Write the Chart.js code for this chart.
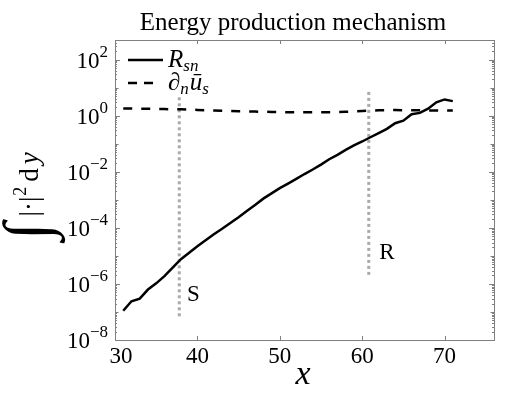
<!DOCTYPE html>
<html>
<head>
<meta charset="utf-8">
<script src="https://cdn.jsdelivr.net/npm/chart.js@4"></script>
<style>
  html, body { margin: 0; padding: 0; background: #fff; }
  #wrap { width: 520px; height: 393px; position: relative; }
</style>
</head>
<body>
<div id="wrap"><canvas id="chart"></canvas></div>
<script>
// Datos
const xPositions = [31, 32, 33, 34, 35, 36, 37, 38, 39, 40, 41, 42, 43, 44, 45, 46, 47, 48, 49, 50,
    51, 52, 53, 54, 55, 56, 57, 58, 59, 60, 61, 62, 63, 64, 65, 66, 67, 68, 69, 70, 71];
const rsnValues = [1.1e-7, 2.4e-7, 3.0e-7, 6.3e-7, 1.05e-6, 1.9e-6, 3.8e-6, 7.6e-6, 1.3e-5, 2.2e-5,
    3.6e-5, 5.9e-5, 9.3e-5, 1.5e-4, 2.4e-4, 4.0e-4, 6.5e-4, 1.1e-3, 1.7e-3, 2.6e-3,
    3.8e-3, 5.6e-3, 8.3e-3, 1.2e-2, 1.8e-2, 2.8e-2, 4.0e-2, 6.0e-2, 8.7e-2, 0.12,
    0.17, 0.24, 0.34, 0.54, 0.66, 1.12, 1.26, 1.78, 3.0, 3.8, 3.3];
const shearValues = [1.80, 1.79, 1.77, 1.76, 1.74, 1.72, 1.70, 1.68, 1.65, 1.60,
    1.56, 1.53, 1.50, 1.47, 1.44, 1.42, 1.40, 1.38, 1.36, 1.35,
    1.33, 1.32, 1.32, 1.32, 1.32, 1.33, 1.35, 1.38, 1.42, 1.47,
    1.52, 1.56, 1.58, 1.58, 1.57, 1.56, 1.55, 1.54, 1.53, 1.53, 1.53];
const markerS = { x: 37.8, ymin: 7e-8, ymax: 5, label: 'S', labelX: 39.5, labelY: 4e-7 };
const markerR = { x: 60.8, ymin: 2.1e-6, ymax: 8.2, label: 'R', labelX: 63, labelY: 1.3e-5 };
const xTicks = [30, 40, 50, 60, 70];
const yTickExponents = [-8, -6, -4, -2, 0, 2];

const serif = '"Liberation Serif", "DejaVu Serif", serif';
const axisColor = '#808080';
const grayLine = '#aaaaaa';

function toPoints(xs, ys) {
    return xs.map((x, i) => ({ x: x, y: ys[i] }));
}

function markerLine(m) {
    return {
        label: m.label,
        data: [{ x: m.x, y: m.ymin }, { x: m.x, y: m.ymax }],
        borderColor: grayLine,
        borderWidth: 3,
        borderDash: [3, 3],
        pointRadius: 0,
        order: 5
    };
}

// Decoración: marco, marcas, rótulos, título y leyenda
const decorations = {
    id: 'decorations',
    afterDraw(chart) {
        const ctx = chart.ctx;
        const a = chart.chartArea;
        const xs = chart.scales.x;
        const ys = chart.scales.y;
        ctx.save();

        // marco
        ctx.strokeStyle = axisColor;
        ctx.lineWidth = 1;
        ctx.strokeRect(a.left + 0.5, a.top + 0.5, a.right - a.left, a.bottom - a.top);

        // marcas del eje x (hacia dentro, arriba y abajo)
        ctx.beginPath();
        xTicks.forEach(v => {
            const px = Math.round(xs.getPixelForValue(v)) + 0.5;
            ctx.moveTo(px, a.bottom); ctx.lineTo(px, a.bottom - 4);
            ctx.moveTo(px, a.top); ctx.lineTo(px, a.top + 4);
        });
        // marcas del eje y (log, mayores y menores)
        for (let e = -8; e <= 2; e++) {
            for (let m = 1; m <= 9; m++) {
                const v = m * Math.pow(10, e);
                if (v < ys.min || v > ys.max) continue;
                const py = Math.round(ys.getPixelForValue(v)) + 0.5;
                const len = (m === 1 && e % 2 === 0) ? 5 : (m === 1 ? 3.5 : 2);
                ctx.moveTo(a.left, py); ctx.lineTo(a.left + len, py);
                ctx.moveTo(a.right, py); ctx.lineTo(a.right - len, py);
            }
        }
        ctx.stroke();

        ctx.fillStyle = '#000';
        // rótulos del eje x
        ctx.font = '23px ' + serif;
        ctx.textAlign = 'center';
        ctx.textBaseline = 'alphabetic';
        xTicks.forEach(v => {
            ctx.fillText(String(v), xs.getPixelForValue(v) + (v === 30 ? 6 : 0), 363);
        });

        // rótulos del eje y con exponente
        yTickExponents.forEach(e => {
            const py = ys.getPixelForValue(Math.pow(10, e));
            const sup = e < 0 ? '\u2212' + (-e) : String(e);
            ctx.font = '17px ' + serif;
            const wSup = ctx.measureText(sup).width;
            ctx.font = '23px ' + serif;
            const wBase = ctx.measureText('10').width;
            const right = a.left - 7;
            ctx.textAlign = 'left';
            ctx.fillText('10', right - wSup - wBase, py + 8);
            ctx.font = '17px ' + serif;
            ctx.fillText(sup, right - wSup, py - 3);
        });

        // título
        ctx.font = '25px ' + serif;
        ctx.textAlign = 'center';
        ctx.fillText('Energy production mechanism', 293, 30);

        // etiqueta x
        ctx.font = 'italic 34px ' + serif;
        ctx.fillText('x', 303, 384);

        // etiqueta y (girada)
        ctx.save();
        ctx.translate(44, 240);
        ctx.rotate(-Math.PI / 2);
        ctx.textAlign = 'left';
        ctx.font = '64px ' + serif;
        ctx.fillText('\u222B', 0, 4);
        let cx = ctx.measureText('\u222B').width + 6;
        ctx.font = '27px ' + serif;
        ctx.fillText('|\u00B7|', cx, -6);
        cx += ctx.measureText('|\u00B7|').width + 1;
        ctx.font = '18px ' + serif;
        ctx.fillText('2', cx, -18);
        cx += ctx.measureText('2').width + 5;
        ctx.font = '27px ' + serif;
        ctx.fillText('d', cx, -6);
        cx += ctx.measureText('d').width + 4;
        ctx.font = 'italic 27px ' + serif;
        ctx.fillText('y', cx, -6);
        ctx.restore();

        // textos S y R
        ctx.font = '23px ' + serif;
        ctx.textAlign = 'center';
        ctx.textBaseline = 'middle';
        [markerS, markerR].forEach(m => {
            ctx.fillText(m.label, xs.getPixelForValue(m.labelX), ys.getPixelForValue(m.labelY));
        });

        // leyenda
        ctx.textBaseline = 'alphabetic';
        ctx.textAlign = 'left';
        ctx.strokeStyle = '#000';
        ctx.lineWidth = 2.5;
        ctx.beginPath();
        ctx.moveTo(128, 60); ctx.lineTo(163, 60);
        ctx.stroke();
        ctx.setLineDash([9, 7]);
        ctx.beginPath();
        ctx.moveTo(128, 83); ctx.lineTo(153, 83);
        ctx.stroke();
        ctx.setLineDash([]);

        ctx.font = 'italic 25px ' + serif;
        ctx.fillText('R', 168, 67);
        let lx = 168 + ctx.measureText('R').width;
        ctx.font = 'italic 17px ' + serif;
        ctx.fillText('sn', lx, 71);

        ctx.font = 'italic 25px ' + serif;
        ctx.fillText('\u2202', 168, 90);
        lx = 168 + ctx.measureText('\u2202').width;
        ctx.font = 'italic 17px ' + serif;
        ctx.fillText('n', lx, 94);
        lx += ctx.measureText('n').width + 1;
        ctx.font = 'italic 25px ' + serif;
        ctx.fillText('\u016B', lx, 90);
        lx += ctx.measureText('\u016B').width;
        ctx.font = 'italic 17px ' + serif;
        ctx.fillText('s', lx, 94);

        ctx.restore();
    }
};

const ctx = document.getElementById('chart').getContext('2d');
new Chart(ctx, {
    type: 'line',
    data: {
        datasets: [
            {
                label: 'R_sn',
                data: toPoints(xPositions, rsnValues),
                borderColor: '#000',
                borderWidth: 2.5,
                pointRadius: 0,
                order: 1
            },
            {
                label: 'dn_us',
                data: toPoints(xPositions, shearValues),
                borderColor: '#000',
                borderWidth: 2.5,
                borderDash: [9, 9],
                pointRadius: 0,
                order: 2
            },
            markerLine(markerS),
            markerLine(markerR)
        ]
    },
    options: {
        responsive: true,
        maintainAspectRatio: false,
        animation: false,
        layout: { padding: { left: 115, right: 26, top: 40, bottom: 53 } },
        plugins: {
            legend: { display: false },
            title: { display: false },
            tooltip: { enabled: false }
        },
        scales: {
            x: { type: 'linear', min: 30, max: 76, display: false },
            y: { type: 'logarithmic', min: 1e-8, max: 500, display: false }
        }
    },
    plugins: [decorations]
});
</script>
</body>
</html>
